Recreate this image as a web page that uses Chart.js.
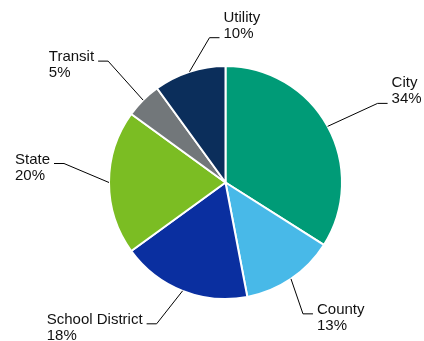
<!DOCTYPE html>
<html>
<head>
<meta charset="utf-8">
<script src="https://cdn.jsdelivr.net/npm/chart.js@4/dist/chart.umd.min.js"></script>
<style>
  html, body { margin: 0; padding: 0; background: #fff; }
  #wrap { width: 424px; height: 341px; }
</style>
</head>
<body>
<div id="wrap"><canvas id="chart" width="424" height="341"></canvas></div>
<script>
// revenue share by category (percent)
const categories = ['City', 'County', 'School District', 'State', 'Transit', 'Utility'];
const shares = [34, 13, 18, 20, 5, 10];
const sliceColors = ['#009B77', '#48B9E8', '#0A2FA0', '#7BBD23', '#72777A', '#0B2E5B'];

// leader elbow offset from slice edge, and which text line sits on the leader
const labelLayout = [
  { ex: 50, ey: -23, line: 1 },
  { ex: 12, ey: 35, line: 0 },
  { ex: -26, ey: 33, line: 0 },
  { ex: -45, ey: -19, line: 0 },
  { ex: -35, ey: -39, line: 0 },
  { ex: 20, ey: -34, line: 1 }
];

const FONT = '15px "Liberation Sans", Arial, sans-serif';
const LINE_H = 16;

const leaderLabels = {
  id: 'leaderLabels',
  afterDatasetsDraw(chart) {
    const ctx = chart.ctx;
    const meta = chart.getDatasetMeta(0);
    ctx.save();
    ctx.font = FONT;
    ctx.fillStyle = '#111';
    ctx.strokeStyle = '#000';
    ctx.lineWidth = 1;
    ctx.textBaseline = 'alphabetic';
    meta.data.forEach((arc, i) => {
      const p = arc.getProps(['x', 'y', 'startAngle', 'endAngle', 'outerRadius'], true);
      const mid = (p.startAngle + p.endAngle) / 2;
      const sx = p.x + Math.cos(mid) * p.outerRadius;
      const sy = p.y + Math.sin(mid) * p.outerRadius;
      const lay = labelLayout[i];
      const bx = sx + lay.ex;
      const by = sy + lay.ey;
      const dir = lay.ex >= 0 ? 1 : -1;
      const endX = bx + dir * 10;

      ctx.beginPath();
      ctx.moveTo(sx, sy);
      ctx.lineTo(bx, by);
      ctx.lineTo(endX, by);
      ctx.stroke();

      const lines = [categories[i], shares[i] + '%'];
      const w = Math.max(...lines.map(t => ctx.measureText(t).width));
      const tx = dir > 0 ? endX + 4 : endX - 4 - w;
      const firstBase = by - lay.line * LINE_H;
      ctx.textAlign = 'left';
      lines.forEach((t, k) => ctx.fillText(t, tx, firstBase + k * LINE_H));
    });
    ctx.restore();
  }
};

new Chart(document.getElementById('chart'), {
  type: 'pie',
  data: {
    labels: categories,
    datasets: [{
      data: shares,
      backgroundColor: sliceColors,
      borderColor: '#ffffff',
      borderWidth: 2
    }]
  },
  options: {
    responsive: false,
    animation: false,
    layout: {
      padding: { left: 108, right: 81, top: 65, bottom: 41 }
    },
    plugins: {
      legend: { display: false },
      tooltip: { enabled: false }
    }
  },
  plugins: [leaderLabels]
});
</script>
</body>
</html>
